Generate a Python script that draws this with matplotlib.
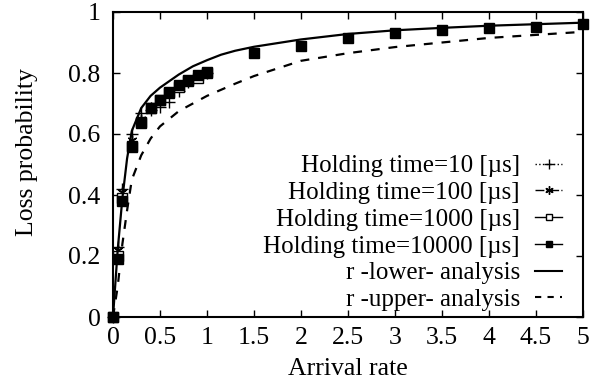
import matplotlib
matplotlib.use('Agg')
import matplotlib.pyplot as plt
from matplotlib.lines import Line2D

plt.rcParams['font.family'] = ['Liberation Serif', 'DejaVu Serif']
plt.rcParams['font.size'] = 18.5

# simulation results (loss probability vs arrival rate)
rate_sim = [0, 0.05, 0.1, 0.2, 0.3, 0.4, 0.5, 0.6, 0.7, 0.8, 0.9, 1.0]
loss_10 = [0, 0.23, 0.42, 0.60, 0.67, 0.68, 0.69, 0.705, 0.74, 0.77, 0.79, 0.80]
loss_100 = [0, 0.22, 0.41, 0.58, 0.65, 0.69, 0.71, 0.735, 0.755, 0.775, 0.79, 0.80]
loss_1000 = [0, 0.20, 0.39, 0.56, 0.64, 0.685, 0.71, 0.735, 0.755, 0.775, 0.785, 0.80]

rate_long = [0, 0.05, 0.1, 0.2, 0.3, 0.4, 0.5, 0.6, 0.7, 0.8, 0.9, 1.0,
             1.5, 2.0, 2.5, 3.0, 3.5, 4.0, 4.5, 5.0]
loss_10000 = [0, 0.19, 0.38, 0.557, 0.636, 0.685, 0.71, 0.738, 0.76, 0.777, 0.793, 0.803,
              0.866, 0.89, 0.915, 0.93, 0.94, 0.947, 0.951, 0.96]

# analysis curves
rate_ana = [0, 0.05, 0.1, 0.15, 0.2, 0.3, 0.4, 0.5, 0.7, 0.85, 1.0, 1.15, 1.3, 1.5, 2.0,
            2.5, 3.0, 3.5, 4.0, 4.5, 5.0]
loss_lower = [0, 0.22, 0.39, 0.52, 0.61, 0.685, 0.725, 0.752, 0.795, 0.822, 0.842, 0.86,
              0.873, 0.886, 0.91, 0.928, 0.94, 0.948, 0.955, 0.96, 0.965]
rate_ana_u = [0, 0.05, 0.1, 0.15, 0.2, 0.3, 0.4, 0.5, 0.7, 0.85, 1.0, 1.3, 1.5, 2.0, 2.5,
              3.0, 3.5, 4.0, 4.5, 5.0]
loss_upper = [0, 0.10, 0.24, 0.35, 0.45, 0.53, 0.585, 0.625, 0.675, 0.70, 0.725, 0.765,
              0.79, 0.84, 0.865, 0.885, 0.90, 0.915, 0.925, 0.935]

labels = ['Holding time=10 [\u00b5s]', 'Holding time=100 [\u00b5s]',
          'Holding time=1000 [\u00b5s]', 'Holding time=10000 [\u00b5s]',
          'r -lower- analysis', 'r -upper- analysis']

fig = plt.figure(figsize=(5.99, 3.79), dpi=100)
ax = fig.add_axes([113 / 599, 1 - 317 / 379, 470 / 599, 305 / 379])

ax.plot(rate_sim, loss_10, ls='none', marker='+', ms=9, mew=1.0, color='k', clip_on=False)
ax.plot(rate_sim, loss_100, ls='none', marker=(6, 2, 0), ms=7, mew=1.0, color='k', clip_on=False)
ax.plot(rate_sim, loss_1000, ls='none', marker='s', ms=6.5, mfc='white', mec='k',
        mew=1.0, clip_on=False)
ax.plot(rate_long, loss_10000, ls='none', marker='s', ms=7.5, color='k', clip_on=False)
ax.plot(rate_ana, loss_lower, '-', color='k', lw=1.6)
ax.plot(rate_ana_u, loss_upper, '--', color='k', lw=1.6, dashes=(4, 4))

handles = [
    Line2D([], [], color='k', ls=':', lw=1, marker='+', ms=7),
    Line2D([], [], color='k', ls='-.', lw=1, marker=(6, 2, 0), ms=6),
    Line2D([], [], color='k', ls='-', lw=1, marker='s', ms=5, mfc='white'),
    Line2D([], [], color='k', ls='-', lw=1, marker='s', ms=5),
    Line2D([], [], color='k', ls='-', lw=1.5),
    Line2D([], [], color='k', ls='--', lw=1.5, dashes=(3, 3)),
]
ax.legend(handles, labels, loc='lower right', bbox_to_anchor=(0.956, 0.019),
          frameon=False, markerfirst=False, handlelength=1.1, handletextpad=0.6,
          labelspacing=0.17, borderpad=0.0, borderaxespad=0.0, fontsize=18)

ax.set_xlim(0, 5)
ax.set_ylim(0, 1)
ax.set_xticks([0, 0.5, 1, 1.5, 2, 2.5, 3, 3.5, 4, 4.5, 5])
ax.set_xticklabels(['0', '0.5', '1', '1.5', '2', '2.5', '3', '3.5', '4', '4.5', '5'])
ax.set_yticks([0, 0.2, 0.4, 0.6, 0.8, 1.0])
ax.set_yticklabels(['0', '0.2', '0.4', '0.6', '0.8', '1'])
ax.tick_params(direction='in', top=True, right=True, length=5, width=1)
ax.tick_params(axis='y', pad=9)
ax.tick_params(axis='x', pad=7)
for s in ax.spines.values():
    s.set_linewidth(1.5)

ax.set_xlabel('Arrival rate', labelpad=7)
ax.set_ylabel('Loss probability')
ax.yaxis.set_label_coords(-0.16, 0.54)

fig.savefig('out.png', dpi=100)
